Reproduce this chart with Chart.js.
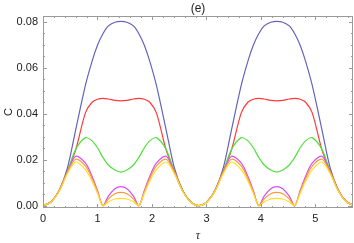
<!DOCTYPE html>
<html>
<head>
<meta charset="utf-8">
<script src="https://cdn.jsdelivr.net/npm/chart.js@4"></script>
<style>
html, body { margin: 0; padding: 0; background: #fff; }
</style>
</head>
<body>
<canvas id="chart" width="354" height="243"></canvas>
<script>
/* ================= DATA ================= */
const tau = [
    0, 0.15, 0.3, 0.45, 0.6, 0.78, 0.9, 1.0, 1.1, 1.2, 1.32, 1.43,
    1.54, 1.66, 1.76, 1.86, 1.96, 2.08, 2.26, 2.41, 2.56, 2.71, 2.86,
    3.01, 3.16, 3.31, 3.46, 3.64, 3.76, 3.86, 3.96, 4.06, 4.18, 4.29,
    4.40, 4.52, 4.62, 4.72, 4.82, 4.94, 5.12, 5.27, 5.42, 5.57, 5.72
];

const blue = [
    0, 0.0017, 0.0068, 0.0165, 0.033, 0.0525, 0.0628, 0.0698, 0.0748, 0.0782, 0.0798, 0.0802,
    0.0798, 0.0782, 0.0748, 0.0698, 0.0628, 0.0525, 0.033, 0.0165, 0.0068, 0.0017, 0,
    0.0017, 0.0068, 0.0165, 0.033, 0.0525, 0.0628, 0.0698, 0.0748, 0.0782, 0.0798, 0.0802,
    0.0798, 0.0782, 0.0748, 0.0698, 0.0628, 0.0525, 0.033, 0.0165, 0.0068, 0.0017, 0
];

const red = [
    0, 0.0017, 0.0067, 0.015, 0.0243, 0.0405, 0.0450, 0.0463, 0.0467, 0.0464, 0.0458, 0.0456,
    0.0458, 0.0464, 0.0467, 0.0463, 0.0450, 0.0405, 0.0243, 0.015, 0.0067, 0.0017, 0,
    0.0017, 0.0067, 0.015, 0.0243, 0.0405, 0.0450, 0.0463, 0.0467, 0.0464, 0.0458, 0.0456,
    0.0458, 0.0464, 0.0467, 0.0463, 0.0450, 0.0405, 0.0243, 0.015, 0.0067, 0.0017, 0
];

const green = [
    0, 0.0017, 0.0067, 0.015, 0.0245, 0.0296, 0.0282, 0.0252, 0.021, 0.0177, 0.0155, 0.0146,
    0.0155, 0.0177, 0.021, 0.0252, 0.0282, 0.0296, 0.0245, 0.015, 0.0067, 0.0017, 0,
    0.0017, 0.0067, 0.015, 0.0245, 0.0296, 0.0282, 0.0252, 0.021, 0.0177, 0.0155, 0.0146,
    0.0155, 0.0177, 0.021, 0.0252, 0.0282, 0.0296, 0.0245, 0.015, 0.0067, 0.0017, 0
];

const magenta = [
    0, 0.0017, 0.0066, 0.0148, 0.0215, 0.0185, 0.0128, 0.0066, 0, 0.0042, 0.0074, 0.0083,
    0.0074, 0.0042, 0, 0.0066, 0.0128, 0.0185, 0.0215, 0.0148, 0.0066, 0.0017, 0,
    0.0017, 0.0066, 0.0148, 0.0215, 0.0185, 0.0128, 0.0066, 0, 0.0042, 0.0074, 0.0083,
    0.0074, 0.0042, 0, 0.0066, 0.0128, 0.0185, 0.0215, 0.0148, 0.0066, 0.0017, 0
];

const orange = [
    0, 0.0017, 0.0066, 0.0146, 0.0202, 0.0172, 0.0118, 0.006, 0, 0.003, 0.0052, 0.0058,
    0.0052, 0.003, 0, 0.006, 0.0118, 0.0172, 0.0202, 0.0146, 0.0066, 0.0017, 0,
    0.0017, 0.0066, 0.0146, 0.0202, 0.0172, 0.0118, 0.006, 0, 0.003, 0.0052, 0.0058,
    0.0052, 0.003, 0, 0.006, 0.0118, 0.0172, 0.0202, 0.0146, 0.0066, 0.0017, 0
];

const yellow = [
    0, 0.0016, 0.0064, 0.014, 0.019, 0.0156, 0.0107, 0.0054, 0, 0.0017, 0.0029, 0.0032,
    0.0029, 0.0017, 0, 0.0054, 0.0107, 0.0156, 0.019, 0.014, 0.0064, 0.0016, 0,
    0.0016, 0.0064, 0.014, 0.019, 0.0156, 0.0107, 0.0054, 0, 0.0017, 0.0029, 0.0032,
    0.0029, 0.0017, 0, 0.0054, 0.0107, 0.0156, 0.019, 0.014, 0.0064, 0.0016, 0
];

const xTicks = [0, 1, 2, 3, 4, 5];
const yTicks = [0, 0.02, 0.04, 0.06, 0.08];

/* ================= DATASETS ================= */
const series = [
    { data: blue, color: "#6464ba" },
    { data: red, color: "#ff3a3a" },
    { data: green, color: "#52e03e" },
    { data: magenta, color: "#d54cf5" },
    { data: orange, color: "#ff9a3a" },
    { data: yellow, color: "#ffde22" }
];

// last series should sit on top, chart.js paints index 0 last
const datasets = series.map((s, i) => ({
    data: tau.map((t, k) => ({ x: t, y: s.data[k] })),
    borderColor: s.color,
    borderWidth: 1.2,
    pointRadius: 0,
    fill: false,
    tension: 0.3,
    order: series.length - i
}));

/* ================= FRAME + INWARD TICKS ================= */
const frameTicks = {
    id: "frameTicks",
    afterDatasetsDraw(chart) {
        const { ctx, chartArea: a, scales: { x, y } } = chart;
        ctx.save();
        ctx.strokeStyle = "#9a9a9a";
        ctx.lineWidth = 1;
        ctx.beginPath();

        for (let i = 0; i <= 28; i++) {
            const px = Math.round(x.getPixelForValue(i * 0.2)) + 0.5;
            if (px > a.right) break;
            const len = i % 5 === 0 ? 4 : 2;
            ctx.moveTo(px, a.bottom); ctx.lineTo(px, a.bottom - len);
            ctx.moveTo(px, a.top); ctx.lineTo(px, a.top + len);
        }

        for (let i = 0; i <= 16; i++) {
            const py = Math.round(y.getPixelForValue(i * 0.005)) + 0.5;
            if (py < a.top) break;
            const len = i % 4 === 0 ? 4 : 2;
            ctx.moveTo(a.left, py); ctx.lineTo(a.left + len, py);
            ctx.moveTo(a.right, py); ctx.lineTo(a.right - len, py);
        }
        ctx.stroke();

        ctx.strokeRect(a.left + 0.5, a.top + 0.5, a.right - a.left - 1, a.bottom - a.top - 1);
        ctx.restore();
    }
};

/* ================= CHART ================= */
const labelFont = { family: "'Liberation Sans', Arial, sans-serif", size: 11 };

new Chart(document.getElementById("chart"), {
    type: "line",
    data: { datasets: datasets },
    options: {
        responsive: false,
        animation: false,
        devicePixelRatio: 1,
        layout: { padding: { top: 0, right: 1, bottom: 0, left: 0 } },
        plugins: {
            legend: { display: false },
            tooltip: { enabled: false },
            title: {
                display: true,
                text: "(e)",
                fullSize: false,
                color: "#222",
                font: { family: "'Liberation Sans', Arial, sans-serif", size: 12, weight: "normal", lineHeight: 1.2 },
                padding: { top: 1, bottom: 0.6 }
            }
        },
        scales: {
            x: {
                type: "linear",
                min: 0,
                max: 5.69,
                afterBuildTicks: s => { s.ticks = xTicks.map(v => ({ value: v })); },
                afterFit: s => { s.height = 35; },
                grid: { display: false, drawTicks: false },
                border: { display: false },
                ticks: {
                    color: "#222",
                    font: labelFont,
                    padding: 4,
                    maxRotation: 0,
                    autoSkip: false,
                    callback: v => String(v)
                },
                title: {
                    display: true,
                    text: "τ",
                    color: "#222",
                    font: { family: "'Liberation Serif', serif", size: 12, style: "italic" },
                    padding: { top: 0, bottom: 0 }
                }
            },
            y: {
                min: -0.001,
                max: 0.0825,
                afterBuildTicks: s => { s.ticks = yTicks.map(v => ({ value: v })); },
                afterFit: s => { s.width = 43; },
                grid: { display: false, drawTicks: false },
                border: { display: false },
                ticks: {
                    color: "#222",
                    font: labelFont,
                    padding: 5,
                    callback: v => v.toFixed(2)
                },
                title: {
                    display: true,
                    text: "C",
                    color: "#222",
                    font: labelFont,
                    padding: { top: 2, bottom: 0 }
                }
            }
        }
    },
    plugins: [frameTicks]
});
</script>
</body>
</html>
